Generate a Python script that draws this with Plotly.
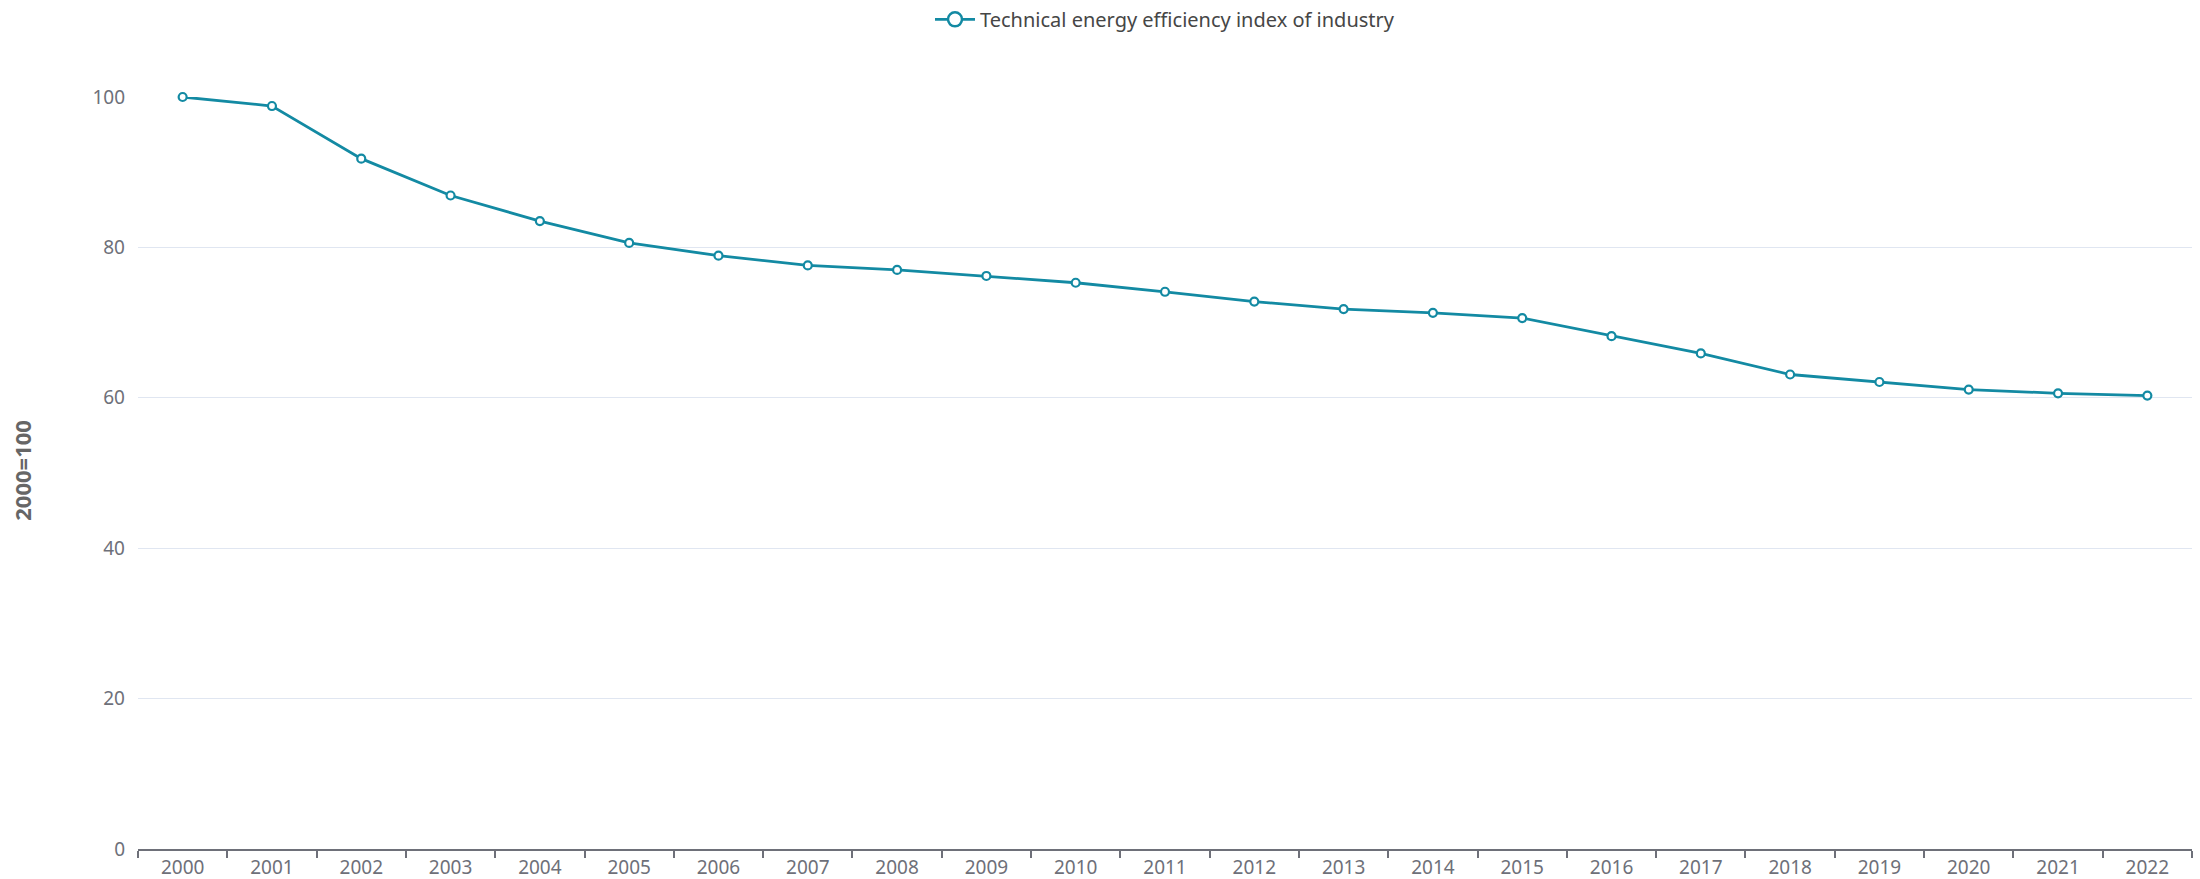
import plotly.graph_objects as go

years = [str(y) for y in range(2000, 2023)]
index_values = [100, 98.8, 91.8, 86.9, 83.5, 80.6, 78.9, 77.6, 77.0, 76.2, 75.3,
                74.1, 72.8, 71.8, 71.3, 70.6, 68.2, 65.9, 63.1, 62.1, 61.1, 60.6, 60.3]
series_name = "Technical energy efficiency index of industry"
y_ticks = [0, 20, 40, 60, 80, 100]
y_title = "2000=100"

color = "#138aa3"
axis_col = "#6E7079"
font_family = "Noto Sans, Open Sans, sans-serif"

fig = go.Figure()
fig.add_trace(go.Scatter(
    x=years, y=index_values, name=series_name, mode="lines+markers",
    line=dict(color=color, width=2.8),
    marker=dict(symbol="circle", size=8, color="white", line=dict(color=color, width=2.2)),
    cliponaxis=False, showlegend=False,
))
# legend entry (larger symbol as in the reference)
fig.add_trace(go.Scatter(
    x=[None], y=[None], name=series_name, mode="lines+markers",
    line=dict(color=color, width=2.8),
    marker=dict(symbol="circle", size=14, color="white", line=dict(color=color, width=2.5)),
    showlegend=True,
))

fig.update_layout(
    width=2200, height=879,
    margin=dict(l=138, r=8, t=97, b=30),
    paper_bgcolor="white", plot_bgcolor="white",
    font=dict(family=font_family, size=19, color=axis_col),
    legend=dict(orientation="h", x=0.5, xanchor="center", xref="paper",
                y=0.978, yanchor="middle", yref="container",
                font=dict(size=20, color="#464646"), itemwidth=40),
    xaxis=dict(
        type="category", range=[-0.5, 22.5], tickson="boundaries",
        ticks="outside", ticklen=7, tickcolor=axis_col, tickwidth=1.5,
        showline=True, linecolor=axis_col, linewidth=1.5,
        showgrid=False, tickfont=dict(size=19, color=axis_col),
        automargin=False,
    ),
    yaxis=dict(
        range=[0, 100], tickvals=y_ticks, showgrid=True, gridcolor="#E0E6F1",
        gridwidth=1, zeroline=False, showline=False, ticks="",
        ticklabelstandoff=12, automargin=False,
        tickfont=dict(size=19, color=axis_col),
    ),
    annotations=[dict(
        text="<b>" + y_title + "</b>", xref="paper", yref="paper",
        x=-(138 - 22) / 2054, y=0.503, xanchor="center", yanchor="middle",
        textangle=-90, showarrow=False, font=dict(size=22, color="#666666"),
    )],
)

fig.write_html(
    "out.html",
    config={"displayModeBar": False},
    post_script="document.body.style.margin='0';document.documentElement.style.overflow='hidden';",
)
